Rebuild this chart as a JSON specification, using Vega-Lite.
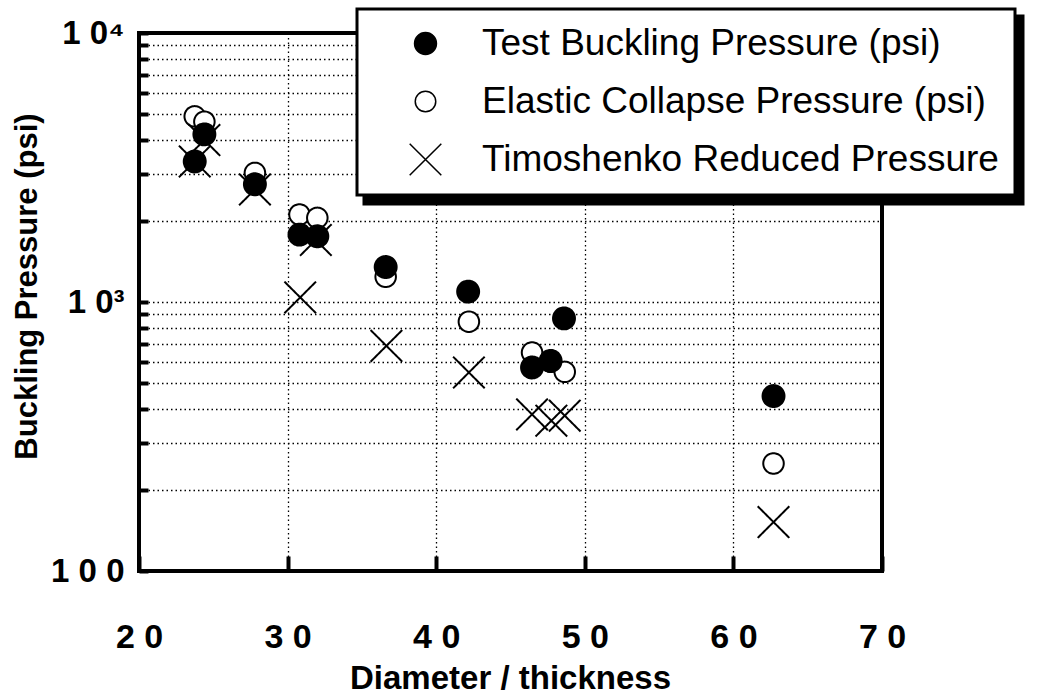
{
  "$schema": "https://vega.github.io/schema/vega-lite/v6.json",
  "width": 743,
  "height": 538,
  "autosize": {"type": "none"},
  "padding": {"left": 139, "top": 33, "right": 155, "bottom": 123},
  "background": "white",
  "config": {
    "font": "Liberation Sans",
    "view": {"stroke": "black", "strokeWidth": 4},
    "legend": {"strokeWidth": 3}
  },
  "data": {
    "values": [
      {"dt": 23.75, "p": 4900, "series": "Elastic Collapse Pressure (psi)"},
      {"dt": 24.4, "p": 4680, "series": "Elastic Collapse Pressure (psi)"},
      {"dt": 27.8, "p": 3020, "series": "Elastic Collapse Pressure (psi)"},
      {"dt": 30.8, "p": 2115, "series": "Elastic Collapse Pressure (psi)"},
      {"dt": 32.0, "p": 2055, "series": "Elastic Collapse Pressure (psi)"},
      {"dt": 36.6, "p": 1241, "series": "Elastic Collapse Pressure (psi)"},
      {"dt": 42.2, "p": 845, "series": "Elastic Collapse Pressure (psi)"},
      {"dt": 46.45, "p": 649, "series": "Elastic Collapse Pressure (psi)"},
      {"dt": 47.7, "p": 600, "series": "Elastic Collapse Pressure (psi)"},
      {"dt": 48.65, "p": 550, "series": "Elastic Collapse Pressure (psi)"},
      {"dt": 62.7, "p": 251, "series": "Elastic Collapse Pressure (psi)"},
      {"dt": 23.75, "p": 3330, "series": "Timoshenko Reduced Pressure"},
      {"dt": 24.4, "p": 4000, "series": "Timoshenko Reduced Pressure"},
      {"dt": 27.8, "p": 2620, "series": "Timoshenko Reduced Pressure"},
      {"dt": 30.85, "p": 1040, "series": "Timoshenko Reduced Pressure"},
      {"dt": 31.9, "p": 1700, "series": "Timoshenko Reduced Pressure"},
      {"dt": 36.65, "p": 687, "series": "Timoshenko Reduced Pressure"},
      {"dt": 42.2, "p": 547, "series": "Timoshenko Reduced Pressure"},
      {"dt": 46.45, "p": 382, "series": "Timoshenko Reduced Pressure"},
      {"dt": 47.75, "p": 362, "series": "Timoshenko Reduced Pressure"},
      {"dt": 48.65, "p": 378, "series": "Timoshenko Reduced Pressure"},
      {"dt": 62.7, "p": 152, "series": "Timoshenko Reduced Pressure"},
      {"dt": 23.75, "p": 3330, "series": "Test Buckling Pressure (psi)"},
      {"dt": 24.4, "p": 4200, "series": "Test Buckling Pressure (psi)"},
      {"dt": 27.8, "p": 2740, "series": "Test Buckling Pressure (psi)"},
      {"dt": 30.8, "p": 1780, "series": "Test Buckling Pressure (psi)"},
      {"dt": 32.0, "p": 1755, "series": "Test Buckling Pressure (psi)"},
      {"dt": 36.6, "p": 1349, "series": "Test Buckling Pressure (psi)"},
      {"dt": 42.15, "p": 1093, "series": "Test Buckling Pressure (psi)"},
      {"dt": 46.45, "p": 571, "series": "Test Buckling Pressure (psi)"},
      {"dt": 47.7, "p": 604, "series": "Test Buckling Pressure (psi)"},
      {"dt": 48.6, "p": 869, "series": "Test Buckling Pressure (psi)"},
      {"dt": 62.7, "p": 447, "series": "Test Buckling Pressure (psi)"}
    ]
  },
  "mark": {"type": "point", "strokeWidth": 2, "opacity": 1, "stroke": "black"},
  "encoding": {
    "x": {
      "field": "dt",
      "type": "quantitative",
      "scale": {"domain": [20, 70], "nice": false, "zero": false},
      "axis": {
        "title": "Diameter / thickness",
        "titleFont": "Liberation Sans",
        "titleFontSize": 33,
        "titleFontWeight": "bold",
        "titleColor": "black",
        "titleX": 371,
        "titleY": 107,
        "titleBaseline": "middle",
        "values": [20, 30, 40, 50, 60, 70],
        "labelExpr": "format(datum.value / 10, 'd') + ' 0'",
        "labelFont": "Liberation Sans",
        "labelFontSize": 34,
        "labelFontWeight": "bold",
        "labelColor": "black",
        "labelFlush": false,
        "labelOverlap": false,
        "labelPadding": 64,
        "domain": false,
        "ticks": true,
        "tickSize": -15,
        "tickWidth": 4,
        "tickColor": "black",
        "grid": true,
        "gridColor": "black",
        "gridWidth": 1.3,
        "gridDash": [1.5, 3]
      }
    },
    "y": {
      "field": "p",
      "type": "quantitative",
      "scale": {"type": "log", "domain": [100, 10000], "nice": false},
      "axis": {
        "title": "Buckling Pressure (psi)",
        "titleFont": "Liberation Sans",
        "titleFontSize": 31,
        "titleFontWeight": "bold",
        "titleColor": "black",
        "titleX": -112,
        "titleY": 253,
        "titleAngle": 270,
        "titleAlign": "center",
        "titleBaseline": "middle",
        "values": [100, 200, 300, 400, 500, 600, 700, 800, 900, 1000, 2000, 3000, 4000, 5000, 6000, 7000, 8000, 9000, 10000],
        "labelExpr": "datum.value == 100 ? '1 0 0' : datum.value == 1000 ? '1 0\u00b3' : datum.value == 10000 ? '1 0\u2074' : ''",
        "labelFont": "Liberation Sans",
        "labelFontSize": 33,
        "labelFontWeight": "bold",
        "labelColor": "black",
        "labelFlush": false,
        "labelOverlap": false,
        "labelPadding": 24,
        "domain": false,
        "ticks": true,
        "tickSize": -9,
        "tickWidth": 4,
        "tickColor": "black",
        "grid": true,
        "gridColor": "black",
        "gridWidth": 1.3,
        "gridDash": [1.5, 3]
      }
    },
    "shape": {
      "field": "series",
      "type": "nominal",
      "scale": {
        "domain": ["Test Buckling Pressure (psi)", "Elastic Collapse Pressure (psi)", "Timoshenko Reduced Pressure"],
        "range": ["circle", "circle", "M-1,-1L1,1M-1,1L1,-1"]
      },
      "legend": {
        "title": null, "orient": "none", "legendX": 218, "legendY": -24, "direction": "vertical",
        "fillColor": "white", "strokeColor": "black", "padding": 16,
        "labelFont": "Liberation Sans", "labelFontSize": 37, "labelFontWeight": "normal", "labelColor": "black",
        "labelLimit": 800, "labelOffset": 38, "symbolOffset": 34, "rowPadding": 20,
        "zindex": 2,
        "encode": {"symbols": {"update": {"stroke": {"value": "black"}, "strokeWidth": {"value": 2}}}}
      }
    },
    "fill": {
      "field": "series",
      "type": "nominal",
      "scale": {
        "domain": ["Test Buckling Pressure (psi)", "Elastic Collapse Pressure (psi)", "Timoshenko Reduced Pressure"],
        "range": ["black", "white", "white"]
      },
      "legend": {
        "title": null, "orient": "none", "legendX": 218, "legendY": -24, "direction": "vertical",
        "fillColor": "white", "strokeColor": "black", "padding": 16,
        "labelFont": "Liberation Sans", "labelFontSize": 37, "labelFontWeight": "normal", "labelColor": "black",
        "labelLimit": 800, "labelOffset": 38, "symbolOffset": 34, "rowPadding": 20,
        "zindex": 2,
        "encode": {"symbols": {"update": {"stroke": {"value": "black"}, "strokeWidth": {"value": 2}}}}
      }
    },
    "size": {
      "field": "series",
      "type": "nominal",
      "scale": {
        "type": "ordinal",
        "domain": ["Test Buckling Pressure (psi)", "Elastic Collapse Pressure (psi)", "Timoshenko Reduced Pressure"],
        "range": [480, 420, 1000]
      },
      "legend": {
        "title": null, "orient": "none", "legendX": 218, "legendY": -24, "direction": "vertical",
        "fillColor": "white", "strokeColor": "black", "padding": 16,
        "labelFont": "Liberation Sans", "labelFontSize": 37, "labelFontWeight": "normal", "labelColor": "black",
        "labelLimit": 800, "labelOffset": 38, "symbolOffset": 34, "rowPadding": 20,
        "zindex": 2,
        "encode": {"symbols": {"update": {"stroke": {"value": "black"}, "strokeWidth": {"value": 2}}}}
      }
    },
    "strokeDash": {
      "field": "series",
      "type": "nominal",
      "scale": {
        "domain": ["Timoshenko Reduced Pressure", "Elastic Collapse Pressure (psi)", "Test Buckling Pressure (psi)"],
        "range": [[1, 0], [1, 0], [1, 0]]
      },
      "legend": {
        "title": null, "orient": "none", "legendX": 225, "legendY": -17, "direction": "vertical",
        "fillColor": "black", "strokeColor": "black", "padding": 16,
        "labelExpr": "''",
        "labelFont": "Liberation Sans", "labelFontSize": 37, "labelFontWeight": "normal", "labelColor": "black",
        "labelLimit": 800, "labelOffset": 556, "symbolOffset": 34, "rowPadding": 20,
        "symbolSize": 1000, "zindex": 1,
        "encode": {
          "symbols": {"update": {"fill": {"value": "black"}, "stroke": {"value": "black"}, "strokeWidth": {"value": 2}}}
        }
      }
    }
  }
}
